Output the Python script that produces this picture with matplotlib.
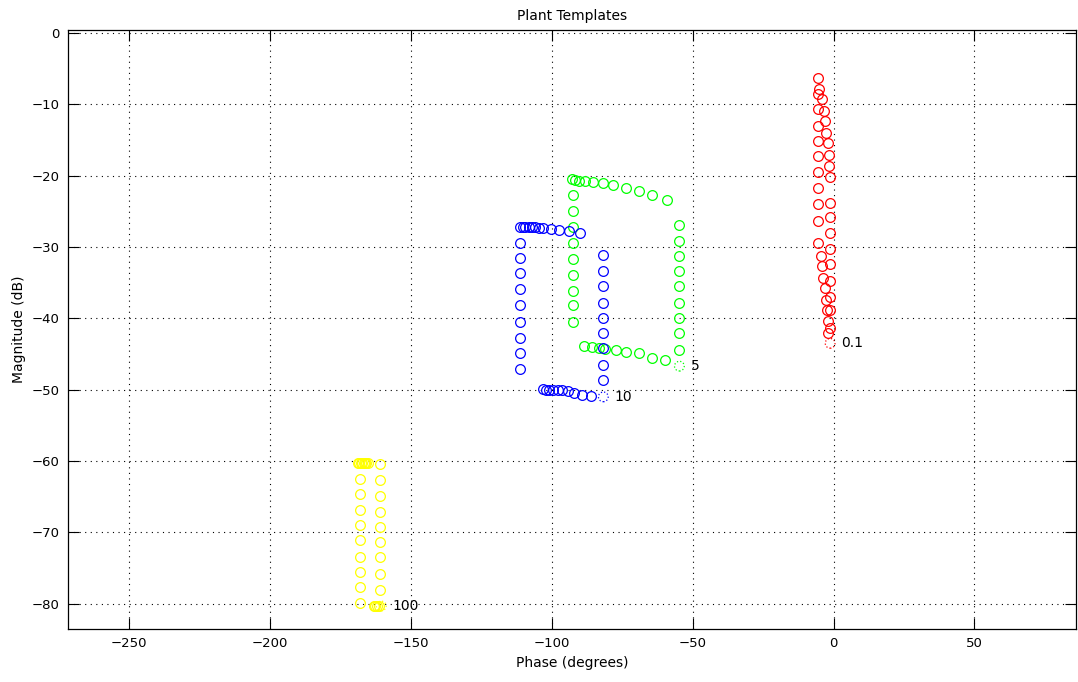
import matplotlib
matplotlib.use("Agg")
import matplotlib.pyplot as plt

# -------------------------------------------------
# Template data (phase in degrees, magnitude in dB)
# -------------------------------------------------

red_phase = [-5.6, -5.2, -5.6, -4.2, -5.6, -3.4, -3.1, -5.6, -2.6, -5.6, -2.0, -5.6, -1.7,
             -5.6, -1.7, -1.2, -5.6, -5.6, -1.2, -5.6, -1.2, -1.2, -5.6, -1.2, -4.6, -1.2,
             -4.2, -3.8, -1.2, -3.0, -1.2, -2.8, -2.2, -1.2, -2.0, -1.2, -1.8]
red_mag = [-6.3, -7.8, -8.5, -9.3, -10.7, -11.0, -12.4, -13.0, -14.0, -15.2, -15.4, -17.3, -17.1,
           -19.5, -18.7, -20.2, -21.7, -24.0, -23.8, -26.3, -25.8, -28.0, -29.5, -30.3, -31.3, -32.4,
           -32.7, -34.3, -34.7, -35.8, -37.0, -37.4, -38.9, -38.9, -40.4, -41.3, -42.0]

green_phase = [-92.8, -91.6, -90.2, -88.1, -85.2, -81.7, -78.1, -73.6, -68.9, -64.4, -59.2,
               -92.6, -92.6, -92.6, -92.6, -92.6, -92.6, -92.6, -92.6, -92.6,
               -54.7, -54.7, -54.7, -54.7, -54.7, -54.7, -54.7, -54.7, -54.7,
               -88.7, -85.7, -83.3, -81.0, -77.2, -73.6, -68.9, -64.4, -59.8]
green_mag = [-20.5, -20.6, -20.7, -20.8, -20.9, -21.1, -21.3, -21.8, -22.2, -22.7, -23.4,
             -22.7, -25.0, -27.2, -29.4, -31.7, -33.9, -36.1, -38.2, -40.5,
             -26.9, -29.1, -31.3, -33.3, -35.5, -37.8, -39.9, -42.1, -44.5,
             -43.9, -44.0, -44.2, -44.3, -44.5, -44.7, -44.9, -45.5, -45.9]

blue_phase = [-111.3, -110.3, -109.4, -108.2, -107.0, -105.8, -104.6, -103.0, -100.3, -97.3, -94.0, -90.0,
              -111.2, -111.2, -111.2, -111.2, -111.2, -111.2, -111.2, -111.2, -111.2,
              -81.7, -81.7, -81.7, -81.7, -81.7, -81.7, -81.7, -81.7, -81.7,
              -103.2, -102.0, -100.9, -99.4, -97.9, -96.4, -94.4, -92.0, -89.2, -86.0]
blue_mag = [-27.2, -27.2, -27.2, -27.2, -27.2, -27.2, -27.3, -27.4, -27.5, -27.6, -27.8, -28.0,
            -29.4, -31.5, -33.7, -35.9, -38.2, -40.5, -42.7, -44.9, -47.1,
            -31.1, -33.3, -35.5, -37.8, -39.9, -42.0, -44.2, -46.5, -48.7,
            -49.9, -50.0, -50.1, -50.1, -50.1, -50.1, -50.2, -50.5, -50.7, -50.9]

yellow_phase = [-168.8, -168.3, -167.8, -167.3, -166.8, -166.3, -165.8, -165.3,
                -168.1, -168.1, -168.1, -168.1, -168.1, -168.1, -168.1, -168.1, -168.1,
                -161.0, -161.0, -161.0, -161.0, -161.0, -161.0, -161.0, -161.0, -161.0,
                -163.2, -162.6, -162.0, -161.4]
yellow_mag = [-60.2, -60.2, -60.2, -60.2, -60.2, -60.2, -60.2, -60.2,
              -62.5, -64.6, -66.8, -69.0, -71.0, -73.4, -75.5, -77.7, -79.9,
              -60.4, -62.6, -64.9, -67.1, -69.3, -71.4, -73.5, -75.8, -78.0,
              -80.3, -80.3, -80.3, -80.3]

# nominal points (dotted circles) and their frequency labels
nom_phase = [-1.2, -54.7, -81.7, -160.5]
nom_mag = [-43.5, -46.7, -51.0, -80.3]
nom_labels = ["0.1", "5", "10", "100"]
colors = ["#ff0000", "#00ff00", "#0000ff", "#ffff00"]

# -------------------------------------------------
# Plot
# -------------------------------------------------

fig = plt.figure(figsize=(10.78, 6.82), dpi=100)
ax = fig.add_axes([0.063, 0.078, 0.935, 0.878])

series = [(red_phase, red_mag), (green_phase, green_mag),
          (blue_phase, blue_mag), (yellow_phase, yellow_mag)]
for (ph, mg), c in zip(series, colors):
    ax.plot(ph, mg, linestyle="none", marker="o", markersize=7,
            markerfacecolor="none", markeredgecolor=c, markeredgewidth=0.9)

for ph, mg, lab, c in zip(nom_phase, nom_mag, nom_labels, colors):
    ax.scatter([ph], [mg], s=49, facecolors="none", edgecolors=c,
               linewidths=0.9, linestyle=":")
    ax.text(ph + 4, mg, lab, fontsize=10, va="center", ha="left")

ax.set_xlim(-271.7, 86)
ax.set_ylim(-83.5, 0.4)
ax.set_xticks([-250, -200, -150, -100, -50, 0, 50])
ax.set_yticks([-80, -70, -60, -50, -40, -30, -20, -10, 0])

ax.grid(True, color="black", linestyle=(0, (1, 4)), linewidth=0.8)
ax.tick_params(direction="in", length=8, width=0.8, top=True, right=True,
               labelsize=9.5, pad=6)
for s in ax.spines.values():
    s.set_linewidth(0.9)

ax.set_title("Plant Templates", fontsize=10, pad=7)
ax.set_xlabel("Phase (degrees)", fontsize=10, labelpad=4)
ax.set_ylabel("Magnitude (dB)", fontsize=10, labelpad=4)

plt.savefig("out.png", dpi=100)
plt.close()
